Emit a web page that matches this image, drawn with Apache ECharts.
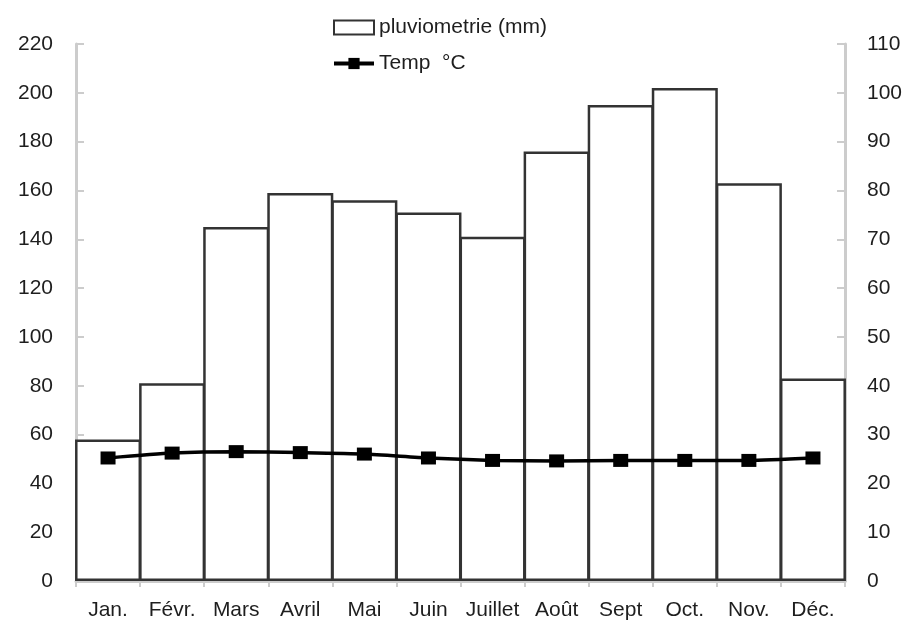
<!DOCTYPE html>
<html>
<head>
<meta charset="utf-8">
<script src="https://cdn.jsdelivr.net/npm/echarts@6/dist/echarts.min.js"></script>
<style>
  html, body { margin: 0; padding: 0; background: #fff; }
  #chart { width: 910px; height: 624px; }
</style>
</head>
<body>
<div id="chart"></div>
<script>
// Monthly climate data
const months = ['Jan.', 'Févr.', 'Mars', 'Avril', 'Mai', 'Juin', 'Juillet', 'Août', 'Sept', 'Oct.', 'Nov.', 'Déc.'];
const rainfall = [58, 81, 145, 159, 156, 151, 141, 176, 195, 202, 163, 83];
const temperature = [25.2, 26.2, 26.5, 26.3, 26.0, 25.2, 24.7, 24.6, 24.7, 24.7, 24.7, 25.2];
const rainTicks = { min: 0, max: 220, interval: 20 };
const tempTicks = { min: 0, max: 110, interval: 10 };

const font = 'Liberation Sans, Arial, sans-serif';
const textColor = '#1e1e1e';
const axisGray = '#cccccc';

const chart = echarts.init(document.getElementById('chart'));
chart.setOption({
  animation: false,
  backgroundColor: '#fff',
  grid: { left: 76, right: 65, top: 44, bottom: 43 },
  legend: {
    orient: 'vertical',
    left: 327,
    top: 12,
    itemGap: 15,
    itemWidth: 40,
    itemHeight: 14,
    textStyle: { fontFamily: font, fontSize: 21, color: textColor },
    data: [
      { name: 'pluviometrie (mm)', icon: 'rect' },
      { name: 'Temp  °C', lineStyle: { width: 4 } }
    ]
  },
  xAxis: {
    type: 'category',
    data: months,
    axisLine: { lineStyle: { color: axisGray, width: 3 } },
    axisTick: { show: true, length: 6, lineStyle: { color: axisGray, width: 2 } },
    axisLabel: { fontFamily: font, fontSize: 21, color: textColor, margin: 19, interval: 0 }
  },
  yAxis: [
    {
      type: 'value',
      min: rainTicks.min, max: rainTicks.max, interval: rainTicks.interval,
      axisLine: { show: true, lineStyle: { color: axisGray, width: 3 } },
      axisTick: { show: true, inside: true, length: 8, lineStyle: { color: axisGray, width: 2 } },
      splitLine: { show: false },
      axisLabel: { fontFamily: font, fontSize: 21, color: textColor, margin: 23 }
    },
    {
      type: 'value',
      min: tempTicks.min, max: tempTicks.max, interval: tempTicks.interval,
      position: 'right',
      axisLine: { show: true, lineStyle: { color: axisGray, width: 3 } },
      axisTick: { show: true, inside: true, length: 8, lineStyle: { color: axisGray, width: 2 } },
      splitLine: { show: false },
      axisLabel: { fontFamily: font, fontSize: 21, color: textColor, margin: 22 }
    }
  ],
  series: [
    {
      name: 'pluviometrie (mm)',
      type: 'bar',
      yAxisIndex: 0,
      data: rainfall,
      barWidth: '103%',
      itemStyle: { color: '#fff', borderColor: '#333333', borderWidth: 2.5 }
    },
    {
      name: 'Temp  °C',
      type: 'line',
      yAxisIndex: 1,
      data: temperature,
      smooth: 0.2,
      symbol: 'rect',
      symbolSize: [15, 13],
      lineStyle: { color: '#000', width: 3.5 },
      itemStyle: { color: '#000' },
      z: 5
    }
  ]
});
</script>
</body>
</html>
